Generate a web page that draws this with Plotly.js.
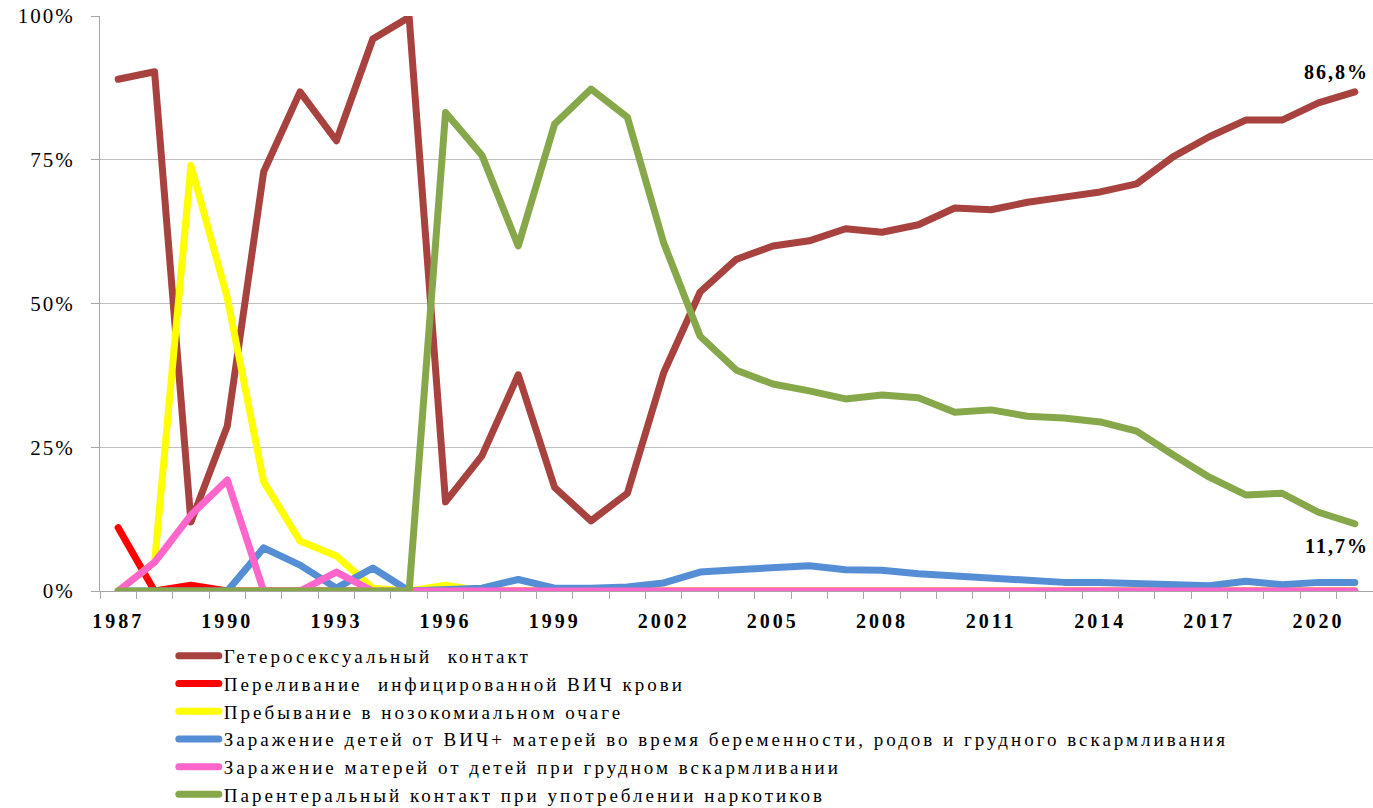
<!DOCTYPE html>
<html>
<head>
<meta charset="utf-8">
<script src="https://cdn.plot.ly/plotly-3.0.1.min.js"></script>
<style>
  html, body { margin: 0; padding: 0; background: #fff; }
  #chart { width: 1373px; height: 808px; }
  .scatterlayer path.js-line, .legend path.js-line { stroke-linecap: round; stroke-linejoin: round; }
  .xtick text { letter-spacing: 3px; }
  .ytick text { letter-spacing: 2px; }
  .legendtext { letter-spacing: 3px; }
  .annotation-text { letter-spacing: 2px; }
</style>
</head>
<body>
<div id="chart"></div>
<script>
const years = [1987,1988,1989,1990,1991,1992,1993,1994,1995,1996,1997,1998,1999,2000,2001,2002,2003,2004,2005,2006,2007,2008,2009,2010,2011,2012,2013,2014,2015,2016,2017,2018,2019,2020,2021];
const tickYears = [1987,1990,1993,1996,1999,2002,2005,2008,2011,2014,2017,2020];

const seriesNames = [
  "Гетеросексуальный  контакт",
  "Переливание  инфицированной ВИЧ крови",
  "Пребывание в нозокомиальном очаге",
  "Заражение детей от ВИЧ+ матерей во время беременности, родов и грудного вскармливания",
  "Заражение матерей от детей при грудном вскармливании",
  "Парентеральный контакт при употреблении наркотиков"
];

const hetero   = [89,90.3,12,28.7,72.9,86.8,78.3,96,99.8,15.5,23.5,37.6,18,12.2,17,38,52,57.7,60,60.9,63,62.4,63.7,66.6,66.3,67.6,68.5,69.4,70.8,75.5,79,81.9,81.9,84.9,86.8];
const blood    = [11,0,1,0,0,0,0,0,0,0,0,0.3,0,0,0,0,0,0,0,0,0,0,0,0,0,0,0,0,0,0,0,0,0,0,0];
const noso     = [0,5,74,51,19,8.7,6.1,0.5,0,1,0,0,0,0,0,0,0,0,0,0,0,0,0,0,0,0,0,0,0,0,0,0,0,0,0];
const children = [0,0,0,0,7.5,4.5,0.5,4,0,0.3,0.5,2,0.5,0.5,0.7,1.4,3.3,3.7,4,4.4,3.7,3.6,3,2.6,2.4,2,1.5,1.5,1.3,1.1,0.9,1.7,1.1,1.5,1.5];
const mothers  = [0,5,13.2,19.3,0,0,3.3,0,0,0,0,0,0,0,0,0,0,0,0,0,0,0,0,0,0,0,0,0,0,0,0,0,0,0,0];
const drugs    = [0,0,0,0,0,0,0,0,0,83.2,75.8,60,81.2,87.3,82.4,60.5,44.3,38.4,36,34.8,33.4,34.1,33.6,31.1,31.5,30.4,30.1,29.4,27.8,23.7,19.8,16.7,17,13.7,11.7];

const colors = ["#A8423F", "#FF0000", "#FFFF00", "#558ED5", "#FF66CC", "#86A84A"];
const allSeries = [hetero, blood, noso, children, mothers, drugs];

const serif = '"Liberation Serif", "Times New Roman", serif';

const traces = allSeries.map((vals, i) => ({
  type: 'scatter',
  mode: 'lines',
  x: years,
  y: vals,
  name: seriesNames[i],
  line: { color: colors[i], width: 7 },
  hoverinfo: 'x+y+name'
}));

const layout = {
  width: 1373,
  height: 808,
  margin: { l: 100, r: 0, t: 16, b: 217, autoexpand: false },
  paper_bgcolor: '#fff',
  plot_bgcolor: '#fff',
  showlegend: true,
  font: { family: serif, color: '#000', size: 20 },
  xaxis: {
    range: [1986.5, 2021.5],
    tickmode: 'array',
    tickvals: tickYears,
    ticktext: tickYears.map(String),
    ticks: '',
    ticklabelstandoff: 12,
    tickfont: { family: serif, size: 20, color: '#000', weight: 'bold' },
    showgrid: false,
    zeroline: false,
    showline: true,
    linecolor: '#A6A6A6',
    linewidth: 1,
    minor: { ticks: 'outside', tick0: 1986.5, dtick: 1, ticklen: 7, tickcolor: '#A6A6A6', tickwidth: 1, showgrid: false },
    fixedrange: true
  },
  yaxis: {
    range: [0, 100],
    tickvals: [0, 25, 50, 75, 100],
    ticktext: ['0%', '25%', '50%', '75%', '100%'],
    ticks: 'outside',
    ticklen: 8,
    tickcolor: '#A6A6A6',
    ticklabelstandoff: 12,
    tickfont: { family: serif, size: 21, color: '#000' },
    showgrid: true,
    gridcolor: '#BFBFBF',
    gridwidth: 1,
    zeroline: false,
    showline: true,
    linecolor: '#A6A6A6',
    linewidth: 1,
    fixedrange: true
  },
  legend: {
    orientation: 'v',
    x: 0.058,
    xanchor: 'left',
    y: -0.08,
    yanchor: 'top',
    traceorder: 'normal',
    font: { family: serif, size: 19, color: '#000' },
    bgcolor: 'rgba(0,0,0,0)',
    itemwidth: 40,
    tracegroupgap: 0
  },
  annotations: [
    { x: 2020.5, y: 90.3, xref: 'x', yref: 'y', text: '86,8%', showarrow: false,
      font: { family: serif, size: 20, color: '#000', weight: 'bold' }, xanchor: 'center', yanchor: 'middle' },
    { x: 2020.5, y: 7.8, xref: 'x', yref: 'y', text: '11,7%', showarrow: false,
      font: { family: serif, size: 20, color: '#000', weight: 'bold' }, xanchor: 'center', yanchor: 'middle' }
  ]
};

Plotly.newPlot('chart', traces, layout, { displayModeBar: false, staticPlot: true });
</script>
</body>
</html>
